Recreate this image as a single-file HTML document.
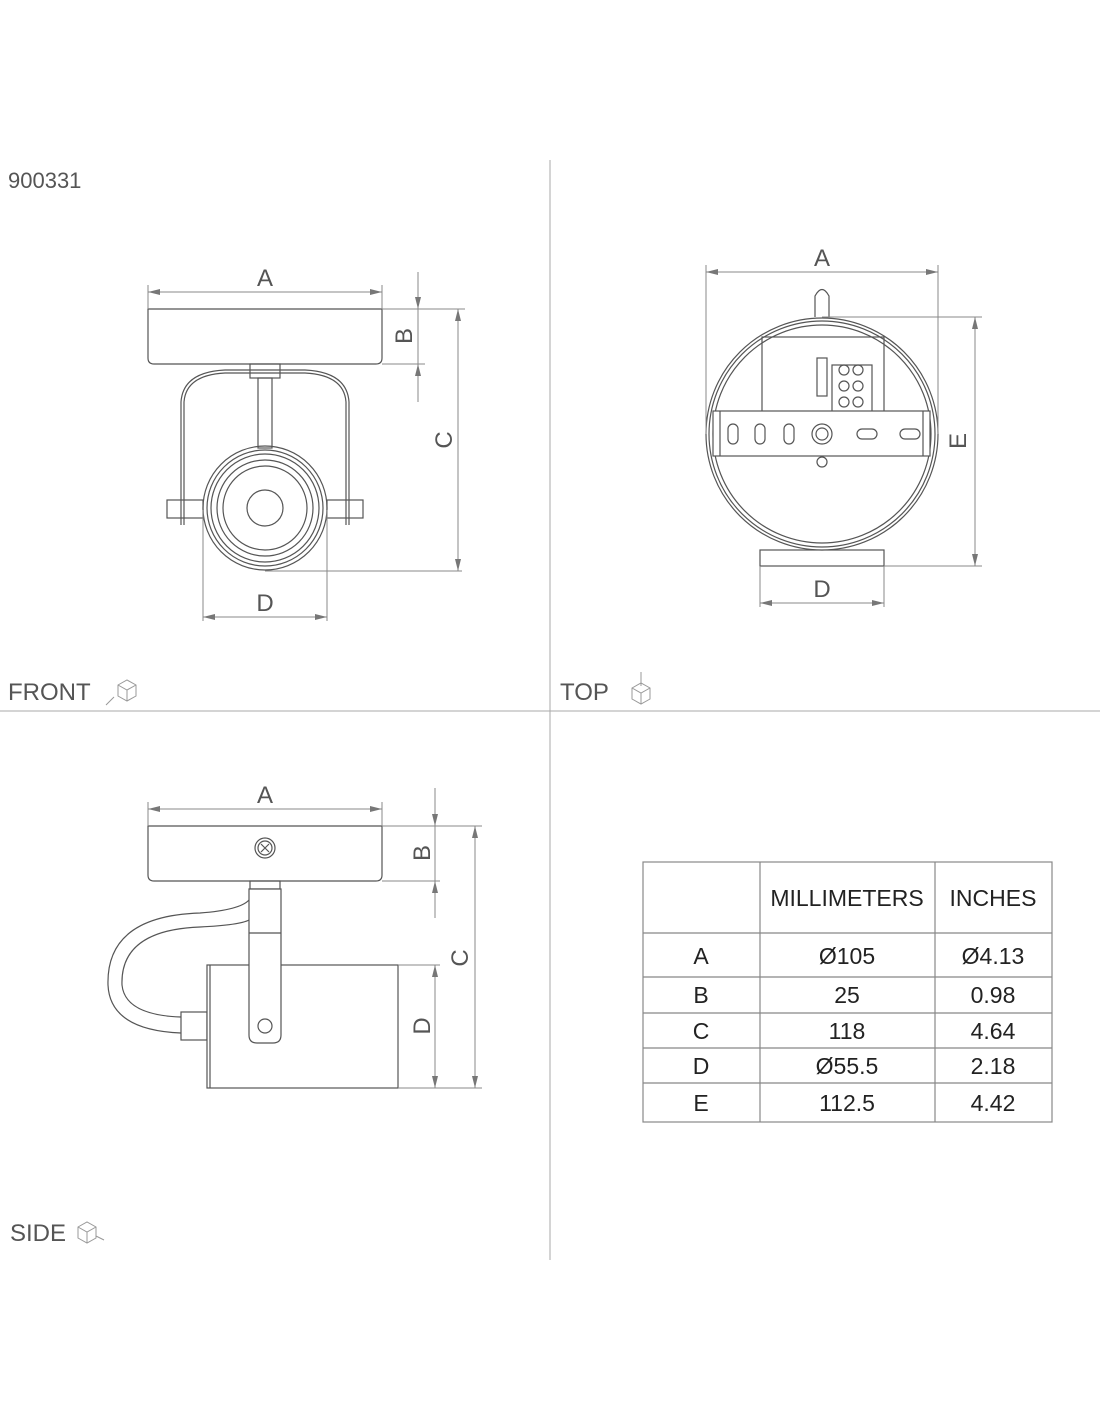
<!DOCTYPE html>
<html><head><meta charset="utf-8"><style>
html,body{margin:0;padding:0;background:#fff;}
svg{display:block;}
text{font-family:"Liberation Sans",sans-serif;fill:#555;}
</style></head><body>
<svg width="1100" height="1422" viewBox="0 0 1100 1422" xmlns="http://www.w3.org/2000/svg">
<defs>
<marker id="ar" viewBox="0 0 12 6" refX="12" refY="3" markerWidth="12" markerHeight="6" orient="auto-start-reverse" markerUnits="userSpaceOnUse"><path d="M0,0 L12,3 L0,6z" fill="#777"/></marker>
</defs>
<!-- dividers -->
<line x1="550" y1="160" x2="550" y2="1260" stroke="#aaa" stroke-width="1"/>
<line x1="0" y1="711" x2="1100" y2="711" stroke="#aaa" stroke-width="1"/>
<text x="8" y="188" font-size="22" fill="#666">900331</text>
<text x="8" y="700" font-size="24">FRONT</text>
<text x="560" y="700" font-size="24">TOP</text>
<text x="10" y="1241" font-size="24">SIDE</text>
<!-- cube icons -->
<g stroke="#999" fill="none" stroke-width="1">
<path d="M118,685 l9,-5 l9,5 v11 l-9,5 l-9,-5z M118,685 l9,5 l9,-5 M127,690 v11 M106,705 l8,-8"/>
<path d="M632,688 l9,-5 l9,5 v11 l-9,5 l-9,-5z M632,688 l9,5 l9,-5 M641,693 v11 M641,672 v14"/>
<path d="M78,1227 l9,-5 l9,5 v11 l-9,5 l-9,-5z M78,1227 l9,5 l9,-5 M87,1232 v11 M96,1236 l8,4"/>
</g>

<g stroke="#555" fill="none" stroke-width="1.2">
<!-- FRONT -->
<path d="M148,309 H382 V358 Q382,364 376,364 H154 Q148,364 148,358 Z"/>
<rect x="250" y="364" width="30" height="14"/>
<rect x="258" y="378" width="14" height="70"/>
<path d="M181,525 V402 Q183,372 225,370 H305 Q347,372 349,402 V525"/>
<path d="M184,525 V402 Q186,375 225,373 H305 Q344,375 346,402 V525"/>
<rect x="167" y="500" width="36" height="18"/>
<rect x="327" y="500" width="36" height="18"/>
<circle cx="265" cy="508" r="62"/>
<circle cx="265" cy="508" r="58"/>
<circle cx="265" cy="508" r="54"/>
<circle cx="265" cy="508" r="48"/>
<circle cx="265" cy="508" r="42"/>
<circle cx="265" cy="508" r="18"/>
</g>
<g stroke="#888" stroke-width="1" fill="none">
<line x1="148" y1="292" x2="382" y2="292" marker-start="url(#ar)" marker-end="url(#ar)"/>
<line x1="148" y1="285" x2="148" y2="309"/><line x1="382" y1="285" x2="382" y2="309"/>
<line x1="418" y1="272" x2="418" y2="309" marker-end="url(#ar)"/>
<line x1="418" y1="402" x2="418" y2="364" marker-end="url(#ar)"/>
<line x1="418" y1="309" x2="418" y2="364"/>
<line x1="382" y1="309" x2="465" y2="309"/><line x1="382" y1="364" x2="425" y2="364"/>
<line x1="458" y1="309" x2="458" y2="571" marker-start="url(#ar)" marker-end="url(#ar)"/>
<line x1="265" y1="571" x2="462" y2="571"/>
<line x1="203" y1="510" x2="203" y2="621"/><line x1="327" y1="510" x2="327" y2="621"/>
<line x1="203" y1="617" x2="327" y2="617" marker-start="url(#ar)" marker-end="url(#ar)"/>
</g>
<text x="265" y="286" font-size="24" text-anchor="middle">A</text>
<text x="265" y="611" font-size="24" text-anchor="middle">D</text>
<text transform="translate(412,336) rotate(-90)" font-size="24" text-anchor="middle">B</text>
<text transform="translate(452,440) rotate(-90)" font-size="24" text-anchor="middle">C</text>

<!-- TOP -->
<g stroke="#555" fill="none" stroke-width="1.2">
<path d="M815,317 V296 Q822,283 829,296 V317"/>
<rect x="760" y="550" width="124" height="16"/>
<circle cx="822" cy="434" r="116" fill="#fff"/>
<circle cx="822" cy="434" r="113"/>
<circle cx="822" cy="434" r="109"/>
<rect x="762" y="337" width="122" height="75"/>
<rect x="832" y="365" width="40" height="47"/>
<rect x="817" y="358" width="10" height="38"/>
<circle cx="844" cy="370" r="5"/><circle cx="858" cy="370" r="5"/>
<circle cx="844" cy="386" r="5"/><circle cx="858" cy="386" r="5"/>
<circle cx="844" cy="402" r="5"/><circle cx="858" cy="402" r="5"/>
<rect x="713" y="411" width="217" height="45" fill="#fff"/>
<line x1="720" y1="411" x2="720" y2="456"/><line x1="923" y1="411" x2="923" y2="456"/>
<rect x="728" y="424" width="10" height="20" rx="5"/>
<rect x="755" y="424" width="10" height="20" rx="5"/>
<rect x="784" y="424" width="10" height="20" rx="5"/>
<circle cx="822" cy="434" r="10"/><circle cx="822" cy="434" r="6"/>
<rect x="857" y="429" width="20" height="10" rx="5"/>
<rect x="900" y="429" width="20" height="10" rx="5"/>
<circle cx="822" cy="462" r="5"/>
</g>
<g stroke="#888" stroke-width="1" fill="none">
<line x1="706" y1="272" x2="938" y2="272" marker-start="url(#ar)" marker-end="url(#ar)"/>
<line x1="706" y1="265" x2="706" y2="434"/><line x1="938" y1="265" x2="938" y2="434"/>
<line x1="822" y1="317" x2="982" y2="317"/><line x1="884" y1="566" x2="982" y2="566"/>
<line x1="975" y1="317" x2="975" y2="566" marker-start="url(#ar)" marker-end="url(#ar)"/>
<line x1="760" y1="566" x2="760" y2="607"/><line x1="884" y1="566" x2="884" y2="607"/>
<line x1="760" y1="603" x2="884" y2="603" marker-start="url(#ar)" marker-end="url(#ar)"/>
</g>
<text x="822" y="266" font-size="24" text-anchor="middle">A</text>
<text x="822" y="597" font-size="24" text-anchor="middle">D</text>
<text transform="translate(966,441) rotate(-90)" font-size="24" text-anchor="middle">E</text>

<!-- SIDE -->
<g stroke="#555" fill="none" stroke-width="1.2">
<path d="M148,826 H382 V875 Q382,881 376,881 H154 Q148,881 148,875 Z"/>
<circle cx="265" cy="848" r="10"/><circle cx="265" cy="848" r="7"/>
<path d="M261,844 l8,8 M269,844 l-8,8"/>
<rect x="250" y="881" width="30" height="8"/>
<path d="M181,1017 Q125,1015 122,985 Q120,930 200,927 Q240,925 249,920"/>
<path d="M181,1033 Q110,1030 108,985 Q106,916 200,913 Q240,910 249,900"/>
<rect x="181" y="1012" width="26" height="28"/>
<rect x="207" y="965" width="191" height="123" fill="#fff"/>
<line x1="210" y1="965" x2="210" y2="1088"/>
<path d="M249,889 V1035 Q249,1043 257,1043 H273 Q281,1043 281,1035 V889 Z" fill="#fff"/>
<line x1="249" y1="933" x2="281" y2="933"/>
<circle cx="265" cy="1026" r="7"/>
</g>
<g stroke="#888" stroke-width="1" fill="none">
<line x1="148" y1="809" x2="382" y2="809" marker-start="url(#ar)" marker-end="url(#ar)"/>
<line x1="148" y1="802" x2="148" y2="826"/><line x1="382" y1="802" x2="382" y2="826"/>
<line x1="435" y1="788" x2="435" y2="826" marker-end="url(#ar)"/>
<line x1="435" y1="918" x2="435" y2="881" marker-end="url(#ar)"/>
<line x1="435" y1="826" x2="435" y2="881"/>
<line x1="382" y1="826" x2="482" y2="826"/><line x1="382" y1="881" x2="440" y2="881"/>
<line x1="475" y1="826" x2="475" y2="1088" marker-start="url(#ar)" marker-end="url(#ar)"/>
<line x1="398" y1="965" x2="440" y2="965"/><line x1="398" y1="1088" x2="482" y2="1088"/>
<line x1="435" y1="965" x2="435" y2="1088" marker-start="url(#ar)" marker-end="url(#ar)"/>
</g>
<text x="265" y="803" font-size="24" text-anchor="middle">A</text>
<text transform="translate(430,853) rotate(-90)" font-size="24" text-anchor="middle">B</text>
<text transform="translate(468,958) rotate(-90)" font-size="24" text-anchor="middle">C</text>
<text transform="translate(430,1026) rotate(-90)" font-size="24" text-anchor="middle">D</text>

<!-- TABLE -->
<g stroke="#888" stroke-width="1.2" fill="none">
<rect x="643" y="862" width="409" height="260"/>
<line x1="760" y1="862" x2="760" y2="1122"/>
<line x1="935" y1="862" x2="935" y2="1122"/>
<line x1="643" y1="933" x2="1052" y2="933"/>
<line x1="643" y1="977" x2="1052" y2="977"/>
<line x1="643" y1="1013" x2="1052" y2="1013"/>
<line x1="643" y1="1048" x2="1052" y2="1048"/>
<line x1="643" y1="1083" x2="1052" y2="1083"/>
</g>
<g font-size="23" text-anchor="middle" style="fill:#222">
<text x="847" y="906" style="fill:#222">MILLIMETERS</text><text x="993" y="906" style="fill:#222">INCHES</text>
<text x="701" y="964" style="fill:#222">A</text><text x="847" y="964" style="fill:#222">Ø105</text><text x="993" y="964" style="fill:#222">Ø4.13</text>
<text x="701" y="1003" style="fill:#222">B</text><text x="847" y="1003" style="fill:#222">25</text><text x="993" y="1003" style="fill:#222">0.98</text>
<text x="701" y="1039" style="fill:#222">C</text><text x="847" y="1039" style="fill:#222">118</text><text x="993" y="1039" style="fill:#222">4.64</text>
<text x="701" y="1074" style="fill:#222">D</text><text x="847" y="1074" style="fill:#222">Ø55.5</text><text x="993" y="1074" style="fill:#222">2.18</text>
<text x="701" y="1111" style="fill:#222">E</text><text x="847" y="1111" style="fill:#222">112.5</text><text x="993" y="1111" style="fill:#222">4.42</text>
</g>
</svg>
</body></html>
